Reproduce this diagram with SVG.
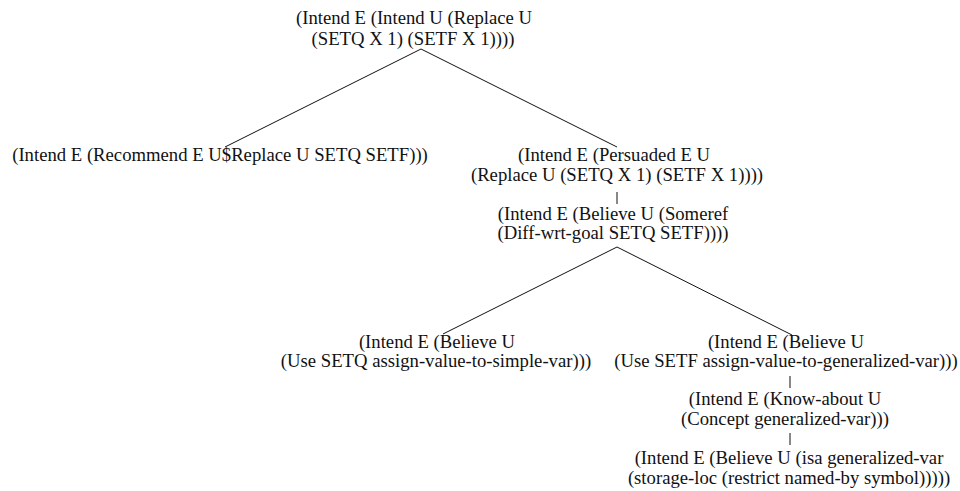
<svg xmlns="http://www.w3.org/2000/svg" width="960" height="491" viewBox="0 0 960 491">
<style>
text{font-family:'Liberation Serif','Times New Roman',serif;font-size:18.7px;fill:#111;text-anchor:middle}
.c line{stroke:#111;stroke-width:1}
</style>
<rect width="960" height="491" fill="#fff"/>
<g class="c" id="connectors">
<line x1="421" y1="49" x2="225" y2="147"/>
<line x1="421" y1="49" x2="617" y2="147"/>
<line x1="617" y1="192" x2="617" y2="204"/>
<line x1="617" y1="247" x2="443" y2="334"/>
<line x1="617" y1="247" x2="792" y2="335"/>
<line x1="790" y1="376" x2="790" y2="388"/>
<line x1="790" y1="433" x2="790" y2="445"/>
</g>
<g id="n1"><text x="414" y="24">(Intend E (Intend U (Replace U</text><text x="413" y="45">(SETQ X 1) (SETF X 1))))</text></g>
<g id="n2"><text x="220" y="161">(Intend E (Recommend E U$Replace U SETQ SETF)))</text></g>
<g id="n3"><text x="614" y="161">(Intend E (Persuaded E U</text><text x="617" y="181">(Replace U (SETQ X 1) (SETF X 1))))</text></g>
<g id="n4"><text x="613" y="220">(Intend E (Believe U (Someref</text><text x="613" y="239">(Diff-wrt-goal SETQ SETF))))</text></g>
<g id="n5"><text x="437" y="348">(Intend E (Believe U</text><text x="436" y="367">(Use SETQ assign-value-to-simple-var)))</text></g>
<g id="n6"><text x="786" y="348">(Intend E (Believe U</text><text x="786" y="367">(Use SETF assign-value-to-generalized-var)))</text></g>
<g id="n7"><text x="785" y="405">(Intend E (Know-about U</text><text x="785" y="425">(Concept generalized-var)))</text></g>
<g id="n8"><text x="789" y="464">(Intend E (Believe U (isa generalized-var</text><text x="789" y="484">(storage-loc (restrict named-by symbol)))))</text></g>
</svg>
